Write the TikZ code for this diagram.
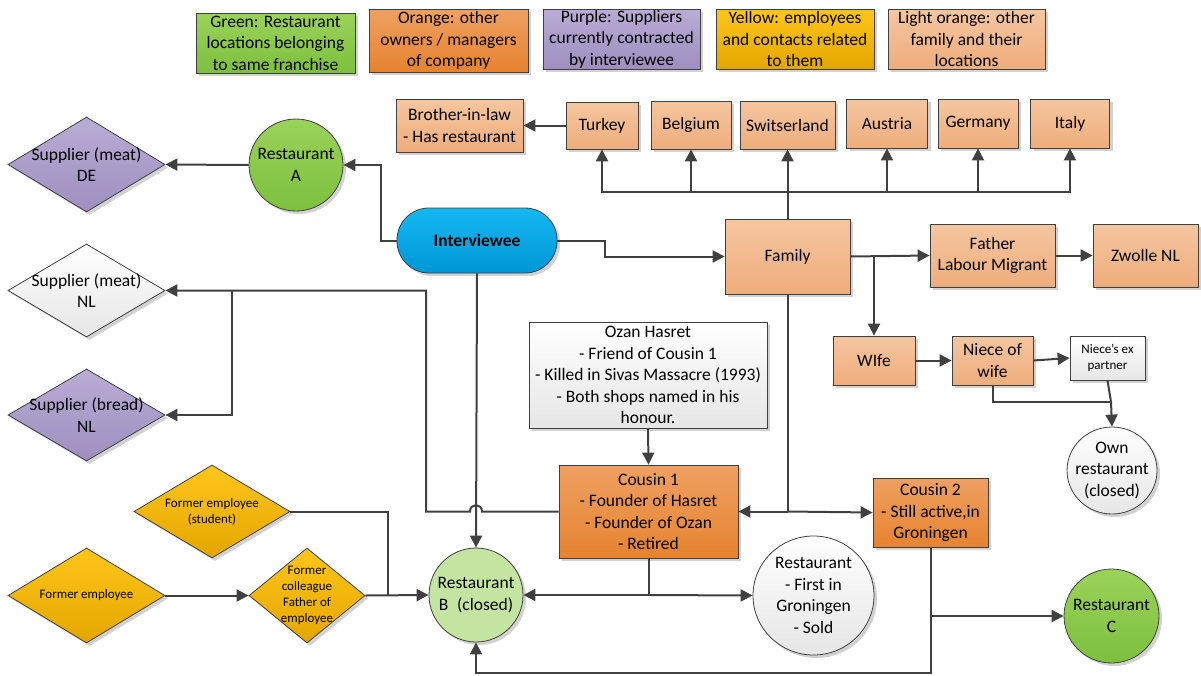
\documentclass[tikz,border=0pt]{standalone}
\usepackage{fontspec}
\setmainfont{Carlito}
\usetikzlibrary{shapes.geometric,arrows.meta,shadows}
\definecolor{grnT}{HTML}{9AD25A}\definecolor{grnB}{HTML}{7DC03E}
\definecolor{orgT}{HTML}{EFA062}\definecolor{orgB}{HTML}{E6832F}
\definecolor{purT}{HTML}{B9ACD4}\definecolor{purB}{HTML}{9E8FC0}
\definecolor{yelT}{HTML}{FFC61A}\definecolor{yelB}{HTML}{E3A600}
\definecolor{lorT}{HTML}{F5C6A0}\definecolor{lorB}{HTML}{EFAD7C}
\definecolor{bluT}{HTML}{14B8F2}\definecolor{bluB}{HTML}{0096D6}
\definecolor{whtT}{HTML}{FFFFFF}\definecolor{whtB}{HTML}{E6E6E6}
\definecolor{lgrn}{HTML}{C4E4A1}
\definecolor{edgeC}{HTML}{404040}
\definecolor{lineC}{HTML}{404040}
\begin{document}
\begin{tikzpicture}[x=1pt,y=-1pt,
  font=\fontsize{17.5}{21.5}\selectfont,
  sz/.style 2 args={minimum width=#1pt, minimum height=#2pt},
  base/.style={draw=edgeC, line width=0.8pt, align=center, inner sep=1pt, text=black,
     drop shadow={shadow xshift=3pt,shadow yshift=-3pt,fill=black!22,opacity=0.8}},
  box/.style={base, rectangle},
  ell/.style={base, ellipse, inner sep=0pt},
  dia/.style={base, diamond, inner sep=0pt},
  lbl/.style={align=center, inner sep=0pt, text=black},
  small/.style={font=\fontsize{13}{16}\selectfont},
  fG/.style={top color=grnT, bottom color=grnB},
  fO/.style={top color=orgT, bottom color=orgB},
  fP/.style={top color=purT, bottom color=purB},
  fY/.style={top color=yelT, bottom color=yelB},
  fL/.style={top color=lorT, bottom color=lorB},
  fB/.style={top color=bluT, bottom color=bluB},
  fW/.style={top color=whtT, bottom color=whtB},
  conn/.style={draw=lineC, line width=2pt},
  arr/.style={conn, -{Triangle[length=12pt,width=12pt]}}
]
\useasboundingbox (0,0) rectangle (1201,675);

% legend
\node[box, fG, sz={159}{60}] (lgG) at (275.5,43) {Green: Restaurant\\locations belonging\\to same franchise};
\node[box, fO, sz={159}{63}] (lgO) at (448.5,40.5) {Orange: other\\owners / managers\\of company};
\node[box, fP, sz={157}{60}] (lgP) at (621.5,39) {Purple: Suppliers\\currently contracted\\by interviewee};
\node[box, fY, sz={158}{60}] (lgY) at (795,39) {Yellow: employees\\and contacts related\\to them};
\node[box, fL, sz={157}{60}] (lgL) at (966.5,39) {Light orange: other\\family and their\\locations};

% countries row
\node[box, fL, sz={127}{53}] (bil) at (459.5,125.5) {Brother-in-law\\- Has restaurant};
\node[box, fL, sz={72}{47}] (tur) at (602,125.5) {Turkey};
\node[box, fL, sz={80}{48}] (bel) at (691,125) {Belgium};
\node[box, fL, sz={95}{48}] (swi) at (787.5,125) {Switserland};
\node[box, fL, sz={81}{49}] (aus) at (887,123.5) {Austria};
\node[box, fL, sz={80}{49}] (ger) at (978,123.5) {Germany};
\node[box, fL, sz={79}{49}] (ita) at (1070,123.5) {Italy};

% central
\node[box, fB, sz={160}{65}, rounded corners=32pt] (int) at (477,240.5) {\textbf{Interviewee}};
\node[box, fL, sz={125}{75}] (fam) at (787.5,256.5) {Family};
\node[box, fL, sz={125}{63}] (fat) at (992.5,255.5) {Father\\Labour Migrant};
\node[box, fL, sz={105}{63}] (zwo) at (1145.5,255.5) {Zwolle NL};
\node[box, fL, sz={82}{49}] (wif) at (874,360.5) {WIfe};
\node[box, fL, sz={81}{49}] (nie) at (992.5,360.5) {Niece of\\wife};
\node[box, fW, small, sz={75}{44}] (nex) at (1107.5,358) {Niece’s ex\\partner};
\node[ell, fW, sz={90}{87}, label={[lbl]center:Own\\restaurant\\(closed)}] (own) at (1112,470.5) {};

\node[box, fW, sz={238}{106}] (ozan) at (648,375) {Ozan Hasret\\- Friend of Cousin 1\\- Killed in Sivas Massacre (1993)\\- Both shops named in his\\honour.};
\node[box, fO, sz={179}{93}] (c1) at (648.5,511.5) {Cousin 1\\- Founder of Hasret\\- Founder of Ozan\\- Retired};
\node[box, fO, sz={115}{69}] (c2) at (930.5,512.5) {Cousin 2\\- Still active,in\\Groningen};

% restaurants
\node[ell, fG, sz={94}{92}, label={[lbl]center:Restaurant\\A}] (resA) at (296,165) {};
\node[ell, fill=lgrn, sz={94}{94}, label={[lbl]center:Restaurant\\B\enspace(closed)}] (resB) at (476,595) {};
\node[ell, fW, sz={121}{119}, label={[lbl]center:Restaurant\\- First in\\Groningen\\- Sold}] (rfg) at (813.5,595.5) {};
\node[ell, fG, sz={95}{94}, label={[lbl]center:Restaurant\\C}] (resC) at (1111.5,616) {};

% suppliers
\node[dia, fP, sz={157}{95}, label={[lbl]center:Supplier (meat)\\DE}] (sde) at (86.5,164.5) {};
\node[dia, fW, sz={157}{93}, label={[lbl]center:Supplier (meat)\\NL}] (snl) at (86.5,290.5) {};
\node[dia, fP, sz={157}{92}, label={[lbl]center:Supplier (bread)\\NL}] (sbr) at (86.5,415) {};

% employees
\node[dia, fY, sz={156}{93}, label={[lbl,small]center:Former employee\\(student)}] (stu) at (212,511.5) {};
\node[dia, fY, sz={157}{95}, label={[lbl,small]center:Former employee}] (fe) at (86.5,595.5) {};
\node[dia, fY, sz={116}{95}, label={[lbl,small]center:Former\\colleague\\Father of\\employee}] (col) at (307,595.5) {};

% junction coordinates
\coordinate (bus) at (787.5,192);
\coordinate (jc) at (787.5,511.5);
\coordinate (jb) at (648.5,595);
\coordinate (jo) at (1111,402);

% connectors
\draw[arr] (int.west) -- (381,240.5) |- (resA.east);
\draw[arr] (resA.west) -- (sde.east);
\draw[arr] (int.east) -- (605,240.5) |- (fam.west);
\draw[conn] (fam.north) -- (bus);
\draw[arr] (bus) -| (tur.south);
\draw[arr] (bus) -| (bel.south);
\draw[arr] (bus) -- (swi.south);
\draw[arr] (bus) -| (aus.south);
\draw[arr] (bus) -| (ger.south);
\draw[arr] (bus) -| (ita.south);
\draw[arr] (tur.west) -- (bil.east);
\draw[arr] (fam.east) -- (fat.west);
\draw[arr] (fam.east -| wif.north) -- (wif.north);
\draw[arr] (fat.east) -- (zwo.west);
\draw[arr] (wif.east) -- (nie.west);
\draw[arr] (nie.east) -- (nex.west);
\draw[conn] (nie.south) |- (jo);
\draw[conn] (nex.south) -- (jo);
\draw[arr] (jo) -- (own.north);
\draw[conn] (fam.south) -- (jc);
\draw[arr] (jc) -- (c1.east);
\draw[arr] (jc) -- (c2.west);
\draw[arr] (ozan.south) -- (c1.north);
\draw[arr] (c1.west) -- (482,511.5) .. controls (482,503) and (470,503) .. (470,511.5) -- (426,511.5) |- (snl.east);
\draw[arr] (232,290.5) |- (sbr.east);
\draw[arr] (int.south) -- (resB.north);
\draw[conn] (stu.east) -| (388,595);
\draw[arr] (fe.east) -- (col.west);
\draw[arr] (col.east) -- (resB.west);
\draw[conn] (c1.south) -- (jb);
\draw[arr] (jb) -- (resB.east);
\draw[arr] (jb) -- (rfg.west);
\draw[arr] (c2.south) -- (930.5,673) -| (resB.south);
\draw[arr] (930.5,616) -- (resC.west);
\end{tikzpicture}
\end{document}
